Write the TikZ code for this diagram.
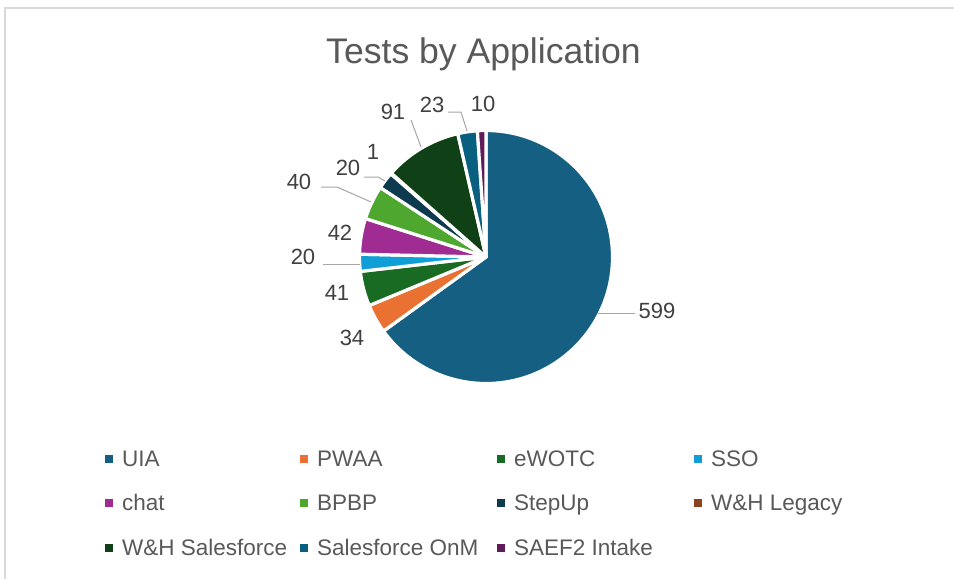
\documentclass[tikz,border=0pt]{standalone}
\usepackage{fontspec}
\setmainfont{Liberation Sans}
% series colours
\definecolor{cUIA}{HTML}{156082}
\definecolor{cPWAA}{HTML}{E97132}
\definecolor{cEWOTC}{HTML}{196B24}
\definecolor{cSSO}{HTML}{0F9ED5}
\definecolor{cChat}{HTML}{A02B93}
\definecolor{cBPBP}{HTML}{4EA72E}
\definecolor{cStepUp}{HTML}{0D3A4E}
\definecolor{cLegacy}{HTML}{8C441E}
\definecolor{cWHSF}{HTML}{0F4016}
\definecolor{cOnM}{HTML}{095F80}
\definecolor{cSAEF}{HTML}{601A58}
% text and line colours
\definecolor{titlegray}{HTML}{595959}
\definecolor{labelgray}{HTML}{404040}
\definecolor{leadergray}{HTML}{A6A6A6}
\definecolor{framegray}{HTML}{D9D9D9}
\begin{document}
\begin{tikzpicture}[x=1pt,y=-1pt,
  slice/.style={draw=white,line width=3.2pt,line join=round},
  vallabel/.style={text=labelgray,font=\fontsize{22}{26}\selectfont,inner sep=0pt},
  leader/.style={draw=leadergray,line width=1pt},
  legtext/.style={text=titlegray,font=\fontsize{22.5}{26}\selectfont,inner sep=0pt,anchor=base west},
  legkey/.style={minimum width=8pt,minimum height=8pt,inner sep=0pt,outer sep=0pt,anchor=center}]
\useasboundingbox[fill=white] (0,0) rectangle (954,579);
% chart frame
\draw[framegray,line width=1.5pt] (954,8) -- (5,8) -- (5,579);
% title
\node[text=titlegray,font=\fontsize{35.6}{40}\selectfont,inner sep=0pt,anchor=base] (title) at (483.5,63.5) {Tests by Application};
% pie, clockwise from the top
\coordinate (ctr) at (486,257);
\newcommand\pieslice[3]{\fill[#1,slice] (ctr) -- ++(#2:126.5) arc[start angle=#2,end angle=#3,radius=126.5] -- cycle;}
\pieslice{cUIA}{-90}{144.137}
\pieslice{cPWAA}{144.137}{157.427}
\pieslice{cEWOTC}{157.427}{173.453}
\pieslice{cSSO}{173.453}{181.271}
\pieslice{cChat}{181.271}{197.688}
\pieslice{cBPBP}{197.688}{213.323}
\pieslice{cStepUp}{213.323}{221.141}
\pieslice{cLegacy}{221.141}{221.532}
\pieslice{cWHSF}{221.532}{257.102}
\pieslice{cOnM}{257.102}{266.092}
\pieslice{cSAEF}{266.092}{270}
% value labels
\node[vallabel] (vUIA) at (657,311) {599};
\node[vallabel] (vPWAA) at (352,338) {34};
\node[vallabel] (vEWOTC) at (337,293) {41};
\node[vallabel] (vSSO) at (303,257) {20};
\node[vallabel] (vChat) at (340,233) {42};
\node[vallabel] (vBPBP) at (299,182) {40};
\node[vallabel] (vStepUp) at (348,168) {20};
\node[vallabel] (vLegacy) at (373,152) {1};
\node[vallabel] (vWHSF) at (393,112) {91};
\node[vallabel] (vOnM) at (432,105) {23};
\node[vallabel] (vSAEF) at (483,104) {10};
% leader lines
\coordinate (eUIA) at (598,313);
\coordinate (eSSO) at (360,264);
\coordinate (eBPBP) at (371,202);
\coordinate (eStepUp) at (385,181);
\coordinate (eWHSF) at (421,147);
\coordinate (eOnM) at (467,131);
\draw[leader] (eUIA) -- (635,313);
\draw[leader] (eSSO) -- (323,264);
\draw[leader] (eBPBP) -- (337,187) -- (321,187);
\draw[leader] (eStepUp) -- (378,177) -- (364,177);
\draw[leader] (eWHSF) -- (411,120);
\draw[leader] (eOnM) -- (461,112) -- (448,112);
% legend
\node[legkey,fill=cUIA] (kUIA) at (109,459) {};
\node[legtext] (tUIA) at (122,466) {UIA};
\node[legkey,fill=cPWAA] (kPWAA) at (303.5,459) {};
\node[legtext] (tPWAA) at (317,466) {PWAA};
\node[legkey,fill=cEWOTC] (kEWOTC) at (501,459) {};
\node[legtext] (tEWOTC) at (514,466) {eWOTC};
\node[legkey,fill=cSSO] (kSSO) at (698,459) {};
\node[legtext] (tSSO) at (711,466) {SSO};
\node[legkey,fill=cChat] (kChat) at (109,503) {};
\node[legtext] (tChat) at (122,510) {chat};
\node[legkey,fill=cBPBP] (kBPBP) at (303.5,503) {};
\node[legtext] (tBPBP) at (317,510) {BPBP};
\node[legkey,fill=cStepUp] (kStepUp) at (501,503) {};
\node[legtext] (tStepUp) at (514,510) {StepUp};
\node[legkey,fill=cLegacy] (kLegacy) at (698,503) {};
\node[legtext] (tLegacy) at (711,510) {W\&H Legacy};
\node[legkey,fill=cWHSF] (kWHSF) at (109,548) {};
\node[legtext] (tWHSF) at (122,555) {W\&H Salesforce};
\node[legkey,fill=cOnM] (kOnM) at (303.5,548) {};
\node[legtext] (tOnM) at (317,555) {Salesforce OnM};
\node[legkey,fill=cSAEF] (kSAEF) at (501,548) {};
\node[legtext] (tSAEF) at (514,555) {SAEF2 Intake};
\end{tikzpicture}
\end{document}
